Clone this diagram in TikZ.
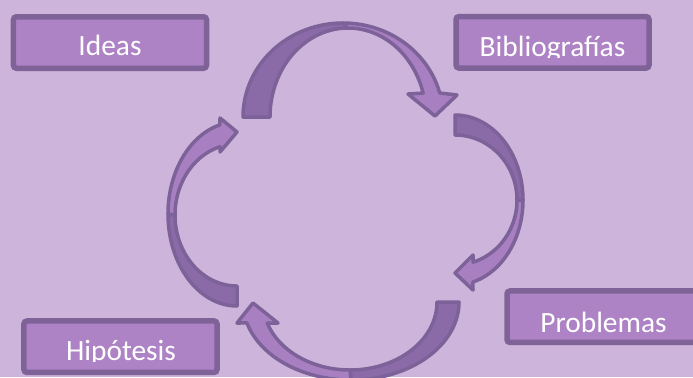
\documentclass[tikz,border=0pt]{standalone}
\usepackage{fontspec}
\setmainfont{Carlito}
\definecolor{bg}{RGB}{205,180,218}
\definecolor{boxfill}{RGB}{174,131,197}
\definecolor{boxline}{RGB}{127,99,152}
\definecolor{arrdark}{RGB}{138,107,168}
\definecolor{arrlight}{RGB}{168,128,194}
\definecolor{arrline}{RGB}{125,98,153}
\begin{document}
\begin{tikzpicture}[x=1bp,y=-1bp,samples=50,
  box/.style={draw=boxline, fill=boxfill, line width=5.5bp, rounded corners=3bp,
    minimum width=193bp, minimum height=51.5bp, inner sep=0pt},
  lbl/.style={text=white, font=\fontsize{29.5}{31}\selectfont, anchor=base, inner sep=0pt},
  back/.style={fill=arrdark, draw=arrline, line width=3.5bp, line join=round},
  front/.style={fill=arrlight, draw=arrline, line width=3.5bp, line join=round}]
\fill[bg] (0,0) rectangle (693,377);
\useasboundingbox (0,0) rectangle (693,377);

% boxes
\node[box] (ideas) at (110,42.5) {};
\node[box] (biblio) at (552.5,42.3) {};
\node[box] (problemas) at (603.5,316.7) {};
\node[box] (hipotesis) at (120.5,346.7) {};

% labels (clipped just below the baseline, as in the reference)
\node[lbl] (tideas) at (110,55) {Ideas};
\begin{scope}
  \clip (453,14) rectangle (652,57.3);
  \node[lbl] (tbiblio) at (552.5,56) {Bibliografías};
\end{scope}
\node[lbl] (tproblemas) at (603.5,332) {Problemas};
\begin{scope}
  \clip (21,318) rectangle (220,361.8);
  \node[lbl] (thipotesis) at (121,360) {Hipótesis};
\end{scope}

% top arrow (curved down)
\draw[back] plot[domain=180:270] ({343+100*cos(\x)},{117+94*sin(\x)})
  -- plot[domain=270:180] ({348+78*cos(\x)},{117+89*sin(\x)}) -- cycle;
\draw[front] plot[domain=270:345.2] ({343+100*cos(\x)},{117+94*sin(\x)})
  -- (457,95) -- (435,116) -- (408,94)
  -- plot[domain=344.4:270] ({348+78*cos(\x)},{117+89*sin(\x)}) -- cycle;

% right arrow (curved left)
\draw[back] plot[domain=270:360] ({455+68*cos(\x)},{200+85*sin(\x)})
  -- plot[domain=360:270] ({455+62*cos(\x)},{200+65*sin(\x)}) -- cycle;
\draw[front] plot[domain=0:74.7] ({455+68*cos(\x)},{200+85*sin(\x)})
  -- (473,290) -- (455,273) -- (473,255)
  -- plot[domain=73.1:0] ({455+62*cos(\x)},{200+65*sin(\x)}) -- cycle;

% bottom arrow (curved up)
\draw[back] plot[domain=0:90] ({351+108*cos(\x)},{302+78*sin(\x)})
  -- plot[domain=90:0] ({350+87*cos(\x)},{302+68*sin(\x)}) -- cycle;
\draw[front] plot[domain=90:164.4] ({351+108*cos(\x)},{302+78*sin(\x)})
  -- (237,323) -- (253,303) -- (278,323)
  -- plot[domain=162:90] ({350+87*cos(\x)},{302+68*sin(\x)}) -- cycle;

% left arrow (curved right)
\draw[back] plot[domain=90:180] ({237+69*cos(\x)},{214+92*sin(\x)})
  -- plot[domain=180:90] ({237+62*cos(\x)},{215+71*sin(\x)}) -- cycle;
\draw[front] plot[domain=180:255.7] ({237+69*cos(\x)},{214+92*sin(\x)})
  -- (220,118) -- (237,132) -- (220,152)
  -- plot[domain=254.1:180] ({237+62*cos(\x)},{215+71*sin(\x)}) -- cycle;
\end{tikzpicture}
\end{document}
